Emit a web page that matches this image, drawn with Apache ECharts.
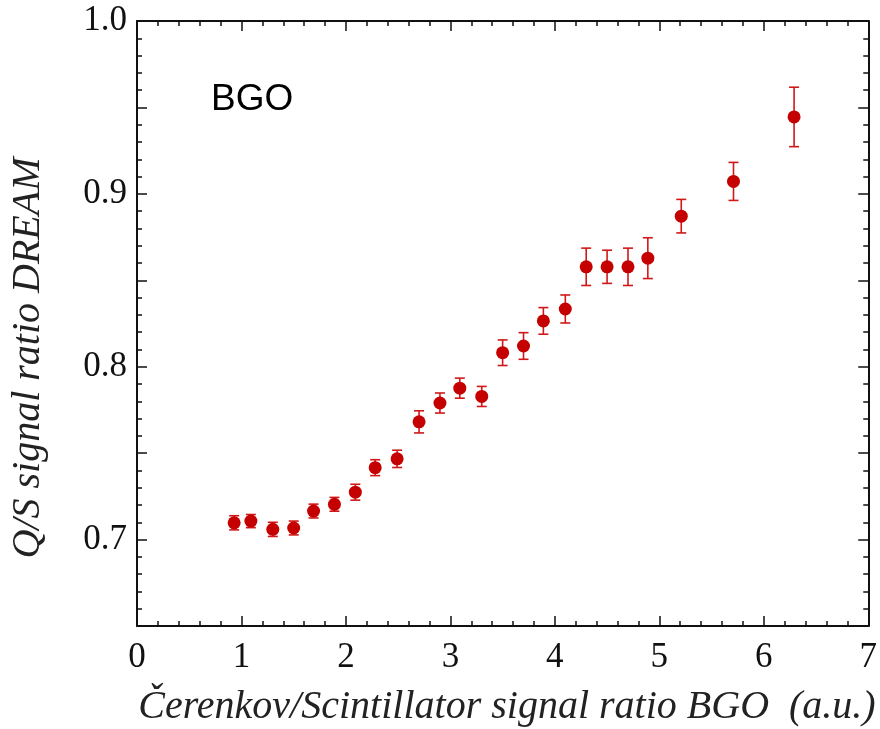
<!DOCTYPE html>
<html>
<head>
<meta charset="utf-8">
<script src="https://cdn.jsdelivr.net/npm/echarts@6/dist/echarts.min.js"></script>
<style>
  html, body { margin: 0; padding: 0; background: #fff; }
  #chart { width: 880px; height: 729px; }
</style>
</head>
<body>
<div id="chart"></div>
<script>
// Cerenkov/Scintillator ratio (x), Q/S ratio (y), half error bar
const xVals = [0.93, 1.09, 1.30, 1.50, 1.69, 1.89, 2.09, 2.28, 2.49, 2.70, 2.90, 3.09,
  3.30, 3.50, 3.70, 3.89, 4.10, 4.30, 4.50, 4.70, 4.89, 5.21, 5.71, 6.29];
const yVals = [0.7097, 0.7107, 0.7059, 0.7067, 0.7165, 0.7204, 0.7274, 0.7416, 0.7467,
  0.7681, 0.7790, 0.7876, 0.7828, 0.8081, 0.8120, 0.8265, 0.8334, 0.8578, 0.8578,
  0.8578, 0.8628, 0.8871, 0.9072, 0.9445];
const yErr = [0.0041, 0.0038, 0.0041, 0.0040, 0.0040, 0.0040, 0.0046, 0.0046, 0.0050,
  0.0064, 0.0058, 0.0058, 0.0058, 0.0074, 0.0077, 0.0077, 0.0081, 0.0108, 0.0096,
  0.0108, 0.0118, 0.0097, 0.0110, 0.0172];

const RED = '#c40000';
const SERIF = '"Liberation Serif", "DejaVu Serif", serif';

const points = xVals.map((x, i) => [x, yVals[i]]);
const bars = xVals.map((x, i) => [x, yVals[i] - yErr[i], yVals[i] + yErr[i]]);

const chart = echarts.init(document.getElementById('chart'));

const tickStyle = { color: '#111', width: 1.5 };
const xBase = {
  type: 'value', min: 0, max: 7, interval: 1,
  axisLine: { show: true, onZero: false, lineStyle: { color: '#111', width: 2 } },
  axisTick: { show: true, inside: true, length: 10, lineStyle: tickStyle },
  minorTick: { show: true, splitNumber: 5, length: 5, lineStyle: tickStyle },
  splitLine: { show: false },
};
const yBase = {
  type: 'value', min: 0.65, max: 1.0, interval: 0.05,
  axisLine: { show: true, onZero: false, lineStyle: { color: '#111', width: 2 } },
  axisTick: { show: true, inside: true, length: 10, lineStyle: tickStyle },
  minorTick: { show: true, splitNumber: 5, length: 5, lineStyle: tickStyle },
  splitLine: { show: false },
};

const option = {
  animation: false,
  backgroundColor: '#fff',
  grid: { left: 137, right: 10, top: 21, bottom: 103 },
  xAxis: [
    Object.assign({}, xBase, {
      position: 'bottom',
      axisLabel: { fontFamily: SERIF, fontSize: 35, color: '#111', margin: 14 },
    }),
    Object.assign({}, xBase, { position: 'top', axisLabel: { show: false } }),
  ],
  yAxis: [
    Object.assign({}, yBase, {
      position: 'left',
      axisLabel: {
        fontFamily: SERIF, fontSize: 35, color: '#111', margin: 10,
        formatter: v => (Math.round(v * 100) % 10 === 0 ? v.toFixed(1) : ''),
      },
    }),
    Object.assign({}, yBase, { position: 'right', axisLabel: { show: false } }),
  ],
  graphic: [
    {
      type: 'text', x: 507, y: 707,
      style: {
        text: 'Čerenkov/Scintillator signal ratio BGO  (a.u.)',
        font: 'italic 40px ' + SERIF, fill: '#222',
        textAlign: 'center', textVerticalAlign: 'middle',
      },
    },
    {
      type: 'text', x: 28, y: 358, rotation: Math.PI / 2,
      style: {
        text: 'Q/S signal ratio DREAM',
        font: 'italic 40px ' + SERIF, fill: '#222',
        textAlign: 'center', textVerticalAlign: 'middle',
      },
    },
    {
      type: 'text', x: 211, y: 100,
      style: {
        text: 'BGO', font: '37px "Liberation Sans", Arial, sans-serif', fill: '#000',
        textAlign: 'left', textVerticalAlign: 'middle',
      },
    },
  ],
  series: [
    {
      type: 'custom',
      xAxisIndex: 0, yAxisIndex: 0,
      data: bars,
      encode: { x: 0, y: [1, 2] },
      renderItem: (params, api) => {
        const x = api.value(0);
        const lo = api.coord([x, api.value(1)]);
        const hi = api.coord([x, api.value(2)]);
        const cap = 5;
        const style = { stroke: '#d01818', lineWidth: 1.6 };
        return {
          type: 'group',
          children: [
            { type: 'line', shape: { x1: lo[0], y1: lo[1], x2: hi[0], y2: hi[1] }, style },
            { type: 'line', shape: { x1: lo[0] - cap, y1: lo[1], x2: lo[0] + cap, y2: lo[1] }, style },
            { type: 'line', shape: { x1: hi[0] - cap, y1: hi[1], x2: hi[0] + cap, y2: hi[1] }, style },
          ],
        };
      },
      z: 2,
    },
    {
      type: 'scatter',
      xAxisIndex: 0, yAxisIndex: 0,
      data: points,
      symbol: 'circle',
      symbolSize: 13,
      itemStyle: { color: RED, opacity: 1 },
      z: 3,
    },
  ],
};

chart.setOption(option);
</script>
</body>
</html>
